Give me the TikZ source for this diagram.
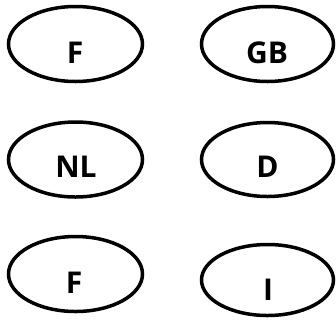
\documentclass[tikz,border=0pt]{standalone}
\usepackage{fontspec}
\setmainfont{Open Sans}
\usetikzlibrary{shapes.geometric}
\tikzset{
  oval/.style={draw=black, line width=3.5pt, ellipse, inner sep=0pt, minimum width=134pt, minimum height=75pt},
  lbl/.style={anchor=base, inner sep=0pt, font=\bfseries\fontsize{30}{34}\selectfont}
}
\begin{document}
\begin{tikzpicture}[x=1pt,y=-1pt]
\useasboundingbox (0,0) rectangle (336,322);
\node[oval] (e1) at (75.5,44) {};
\node[oval, minimum width=132pt] (e2) at (267.5,44) {};
\node[oval] (e3) at (75.5,159.5) {};
\node[oval, minimum width=132pt, minimum height=74pt] (e4) at (267.5,159.5) {};
\node[oval] (e5) at (75.5,274) {};
\node[oval, minimum width=132pt, minimum height=71pt] (e6) at (267.5,280) {};
\node[lbl] (t1) at (75,63) {F};
\node[lbl] (t2) at (267,63) {GB};
\node[lbl] (t3) at (76,177) {NL};
\node[lbl] (t4) at (267.5,177) {D};
\node[lbl] (t5) at (74,293) {F};
\node[lbl] (t6) at (268,300) {I};
\end{tikzpicture}
\end{document}
